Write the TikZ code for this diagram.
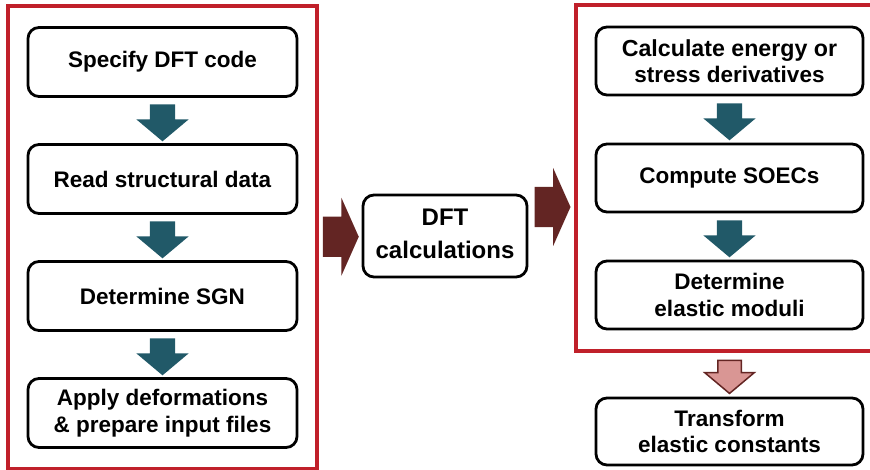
\documentclass[tikz,border=0pt]{standalone}
\usepackage{fontspec}
\setmainfont{Liberation Sans}
\usetikzlibrary{positioning,shapes.arrows,fit,calc}

\definecolor{framered}{RGB}{192,32,42}
\definecolor{stepteal}{RGB}{33,89,104}
\definecolor{linkred}{RGB}{99,37,35}
\definecolor{linkpink}{RGB}{217,150,148}

\begin{document}
\begin{tikzpicture}[x=1pt, y=1pt, node distance=117pt,
    stepbox/.style={draw, line width=2.8pt, rounded corners=11pt, fill=white,
        minimum width=269pt, minimum height=69pt, align=center,
        font=\fontsize{22.5}{26.5}\selectfont\bfseries},
    redframe/.style={draw=framered, line width=4pt, inner xsep=18.5pt, inner ysep=20.5pt},
    downarrow/.style={single arrow, fill=stepteal, rotate=-90, inner xsep=0pt, inner ysep=12.5pt,
        single arrow head extend=13.5pt, single arrow tip angle=100,
        minimum width=0pt, minimum height=37pt},
    linkarrow/.style={single arrow, fill=linkred, inner xsep=0pt, inner ysep=20pt,
        single arrow head extend=19pt, single arrow tip angle=132,
        minimum width=0pt, minimum height=36pt},
    outarrow/.style={single arrow, draw=linkred, line width=1.5pt, fill=linkpink, rotate=-90,
        inner xsep=0pt, inner ysep=11pt, single arrow head extend=13pt, single arrow tip angle=100,
        minimum width=0pt, minimum height=33pt}]
    \useasboundingbox (0,0) rectangle (870,-470);

    % input side
    \node [stepbox] (spec) at (162.5,-62) {Specify DFT code};
    \node [stepbox, below of=spec] (read) {Read structural data};
    \node [stepbox, below of=read] (sgn) {Determine SGN};
    \node [stepbox, below of=sgn] (apply) {Apply deformations\\\& prepare input files};
    \node [redframe, fit=(spec) (apply)] (prep) {};

    % DFT step
    \node [stepbox, minimum width=164pt, minimum height=82pt, font=\fontsize{24}{33}\selectfont\bfseries]
          (dft) at (445,-236) {DFT\\calculations\vphantom{g}};

    % output side
    \node [stepbox, minimum width=267pt, minimum height=68pt] (calc) at (729.5,-61)
          {\fontsize{23.2}{26.5}\selectfont Calculate energy or\\stress derivatives};
    \node [stepbox, minimum width=267pt, minimum height=68pt, below of=calc] (soec) {Compute SOECs};
    \node [stepbox, minimum width=267pt, minimum height=68pt, below of=soec] (moduli) {Determine\\elastic moduli};
    \node [redframe, inner xsep=19pt, inner ysep=21pt, fit=(calc) (moduli)] (post) {};
    \node [stepbox, minimum width=267pt, minimum height=67pt, below of=moduli, node distance=136.5pt]
          (trans) {Transform\\elastic constants};

    % arrows
    \foreach \a/\b in {spec/read, read/sgn, sgn/apply, calc/soec, soec/moduli}
        \node [downarrow] (arr-\a) at ($(\a.south)!0.5!(\b.north)+(0,3)$) {};
    \node [linkarrow] (in-dft) at ($(prep.east)!0.5!(dft.west)+(-4,0)$) {};
    \node [linkarrow] (out-dft) at ($(dft.east)!0.5!(post.west)+(-3,0)$) {};
    \node [outarrow] (to-trans) at ($(post.south)!0.5!(trans.north)+(0,3)$) {};
\end{tikzpicture}
\end{document}
